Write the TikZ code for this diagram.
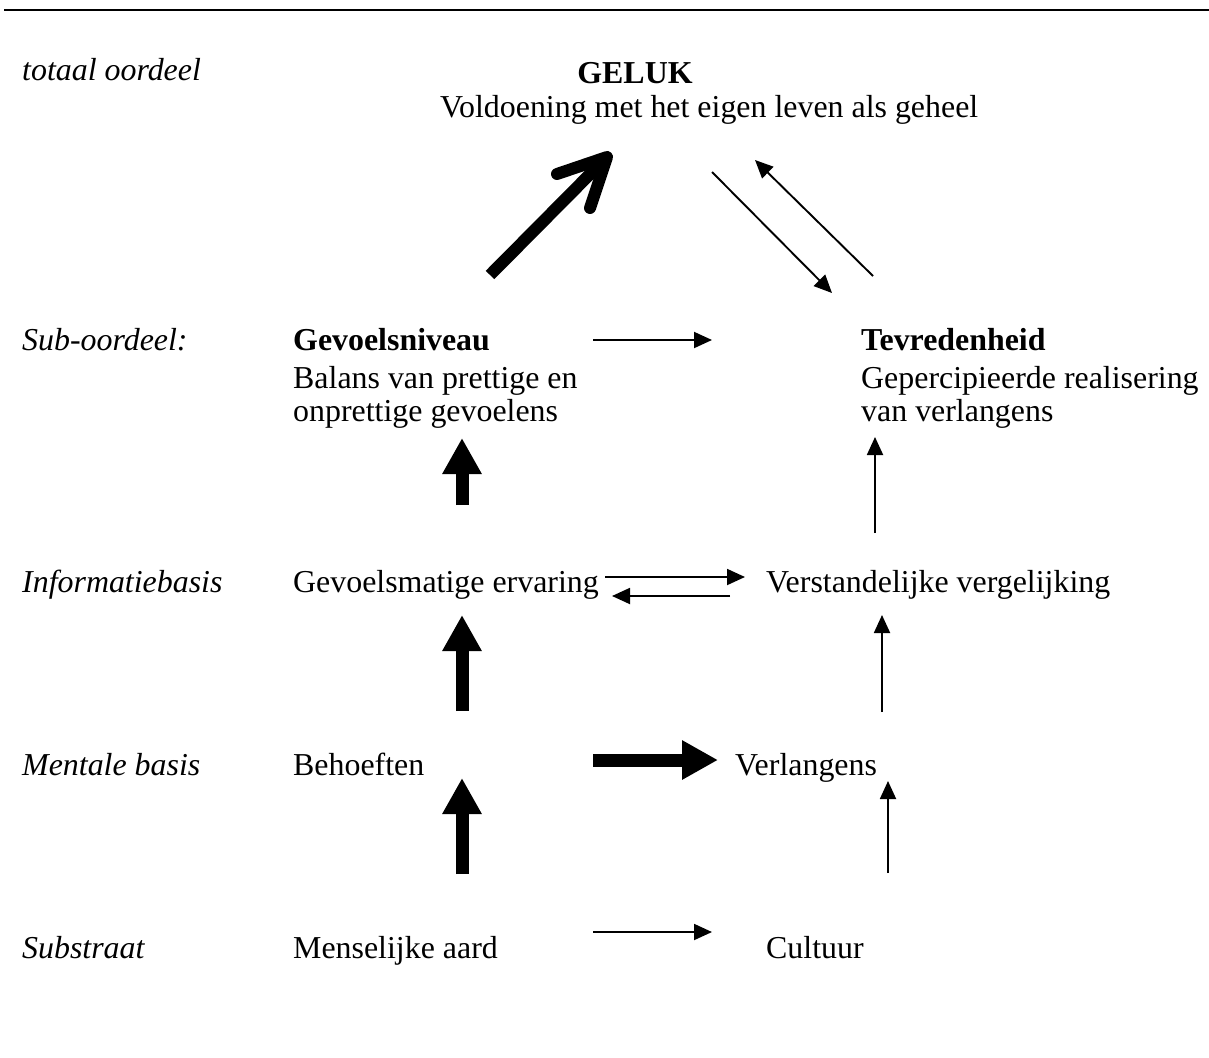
\documentclass[tikz,border=0pt]{standalone}
\usepackage{fontspec}
\setmainfont{Liberation Serif}
\usetikzlibrary{arrows.meta,calc}
\begin{document}
\begin{tikzpicture}[x=1pt,y=-1pt,
  txt/.style={anchor=base west,inner sep=0pt,font=\fontsize{31.9}{36.5}\selectfont},
  lab/.style={txt,font=\fontsize{31.9}{36.5}\selectfont\itshape},
  thin/.style={line width=1.9pt,-{Triangle[length=18pt,width=16pt]}},
  thick/.style={line width=13pt,-{Triangle[length=36pt,width=37pt]}}]
\useasboundingbox (0,0) rectangle (1209,1057);
\draw[line width=2pt] (4,10) -- (1209,10);
% labels
\node[lab] (l1) at (22,80) {totaal oordeel};
\node[lab] (l2) at (22,350) {Sub-oordeel:};
\node[lab] (l3) at (22,592) {Informatiebasis};
\node[lab] (l4) at (22,775) {Mentale basis};
\node[lab] (l5) at (22,958) {Substraat};
% texts
\node[txt,anchor=base,font=\fontsize{31.9}{36.5}\selectfont\bfseries] (geluk) at (635,83) {GELUK};
\node[txt] (vold) at (440,117) {Voldoening met het eigen leven als geheel};
\node[txt,font=\fontsize{31.9}{36.5}\selectfont\bfseries] (gev) at (293,350) {Gevoelsniveau};
\node[txt] (gev1) at (293,388) {Balans van prettige en};
\node[txt] (gev2) at (293,421) {onprettige gevoelens};
\node[txt,font=\fontsize{31.9}{36.5}\selectfont\bfseries] (tev) at (861,350) {Tevredenheid};
\node[txt] (tev1) at (861,388) {Gepercipieerde realisering};
\node[txt] (tev2) at (861,421) {van verlangens};
\node[txt] (gerv) at (293,592) {Gevoelsmatige ervaring};
\node[txt] (verg) at (766,592) {Verstandelijke vergelijking};
\node[txt] (beh) at (293,775) {Behoeften};
\node[txt] (verl) at (735,775) {Verlangens};
\node[txt] (mens) at (293,958) {Menselijke aard};
\node[txt] (cult) at (766,958) {Cultuur};
% coordinates
\coordinate (bA) at (490,275); \coordinate (bT) at (607,157);
\coordinate (bL) at (557,174); \coordinate (bR) at (590,208);
\coordinate (d1a) at (712,172); \coordinate (d1b) at (832,293);
\coordinate (d2a) at (873,276); \coordinate (d2b) at (755,160);
\coordinate (h1a) at (593,340); \coordinate (h1b) at (712,340);
\coordinate (v1a) at (462,505); \coordinate (v1b) at (462,438);
\coordinate (v2a) at (462,711); \coordinate (v2b) at (462,615);
\coordinate (v3a) at (462,874); \coordinate (v3b) at (462,778);
\coordinate (w1a) at (875,533); \coordinate (w1b) at (875,437);
\coordinate (w2a) at (882,712); \coordinate (w2b) at (882,615);
\coordinate (w3a) at (888,873); \coordinate (w3b) at (888,781);
\coordinate (e1a) at (605,577); \coordinate (e1b) at (745,577);
\coordinate (e2a) at (730,596); \coordinate (e2b) at (612,596);
\coordinate (t1a) at (593,760); \coordinate (t1b) at (718,760);
\coordinate (s1a) at (593,932); \coordinate (s1b) at (712,932);
% big arrow
\draw[line width=12pt] (bA) -- ($(bT)!6pt!(bA)$);
\draw[line width=12pt,line cap=round,line join=round] (bL) -- (bT) -- (bR);
\draw[thin] (d1a) -- (d1b);
\draw[thin] (d2a) -- (d2b);
\draw[thin] (h1a) -- (h1b);
\draw[thick] (v1a) -- (v1b);
\draw[thick] (v2a) -- (v2b);
\draw[thick] (v3a) -- (v3b);
\draw[thin] (w1a) -- (w1b);
\draw[thin] (w2a) -- (w2b);
\draw[thin] (w3a) -- (w3b);
\draw[thin] (e1a) -- (e1b);
\draw[thin] (e2a) -- (e2b);
\draw[thick] (t1a) -- (t1b);
\draw[thin] (s1a) -- (s1b);
\end{tikzpicture}
\end{document}
